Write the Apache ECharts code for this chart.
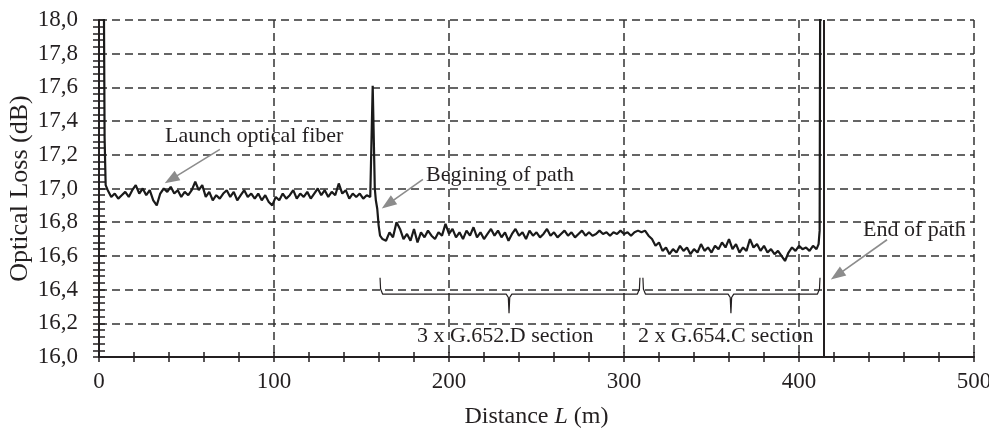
<!DOCTYPE html>
<html><head><meta charset="utf-8">
<script src="https://cdn.jsdelivr.net/npm/echarts@6/dist/echarts.min.js"></script>
<style>html,body{margin:0;padding:0;background:#fff}#c{width:989px;height:434px}</style>
</head><body><div id="c"></div>
<script>
// ---- data (distance in m, optical loss in dB) ----
const startDist = [2.6, 3.2, 3.8];
const startLoss = [18.5, 17.3, 17.02];

const launchDist = [5,7,9,11,13,15,17,19,21,23,25,27,29,31,33,35,37,39,41,43,45,47,49,51,53,55,57,59,61,63,65,67,69,71,73,75,77,79,81,83,85,87,89,91,93,95,97,99,101,103,105,107,109,111,113,115,117,119,121,123,125,127,129,131,133,135,137,139,141,143,145,147,149,151,153,155];
const launchLoss = [16.99,16.95,16.97,16.94,16.96,16.98,16.95,16.99,17.02,16.97,
  17.00,16.96,16.99,16.93,16.90,16.97,17.00,16.98,17.01,16.97,
  16.99,16.95,16.98,16.96,16.99,17.04,16.99,17.02,16.95,16.98,
  16.93,16.96,16.94,16.97,16.99,16.95,16.98,16.93,16.96,16.99,
  16.95,16.97,16.94,16.97,16.93,16.96,16.92,16.90,16.95,16.93,
  16.97,16.94,16.96,16.99,16.94,16.97,16.95,16.98,16.94,16.97,
  17.00,16.96,16.99,16.95,16.98,16.96,17.03,16.97,16.99,16.94,
  16.97,16.95,16.97,16.94,16.96,16.95];

const reflDist = [156.0,156.4,157.6,158.2,159.0,159.8,160.6];
const reflLoss = [16.96,17.61,17.0,16.93,16.88,16.78,16.72];

const g652Dist = [162,164,166,168,170,172,174,176,178,180,182,184,186,188,190,192,194,196,198,200,202,204,206,208,210,212,214,216,218,220,222,224,226,228,230,232,234,236,238,240,242,244,246,248,250,252,254,256,258,260,262,264,266,268,270,272,274,276,278,280,282,284,286,288,290,292,294,296,298,300,302,304,306,308,310];
const g652Loss = [16.70,16.69,16.74,16.71,16.80,16.76,16.70,16.73,16.69,16.76,
  16.68,16.74,16.71,16.75,16.72,16.70,16.74,16.72,16.79,16.73,
  16.76,16.71,16.74,16.70,16.75,16.72,16.77,16.71,16.74,16.70,
  16.73,16.76,16.72,16.75,16.71,16.74,16.69,16.73,16.76,16.72,
  16.74,16.70,16.75,16.72,16.74,16.71,16.73,16.76,16.72,16.74,
  16.71,16.73,16.75,16.72,16.74,16.71,16.73,16.75,16.72,16.74,
  16.72,16.73,16.75,16.73,16.74,16.72,16.74,16.73,16.75,16.73,
  16.74,16.72,16.74,16.75,16.74];

const g654Dist = [312,314,316,318,320,322,324,326,328,330,332,334,336,338,340,342,344,346,348,350,352,354,356,358,360,362,364,366,368,370,372,374,376,378,380,382,384,386,388,390,392,394,396,398,400,402,404,406,408,410,411.2,411.8,412.2];
const g654Loss = [16.75,16.72,16.70,16.66,16.68,16.63,16.65,16.61,16.64,16.62,
  16.66,16.63,16.65,16.61,16.64,16.62,16.67,16.63,16.65,16.62,
  16.66,16.64,16.68,16.65,16.70,16.64,16.67,16.62,16.65,16.63,
  16.70,16.65,16.67,16.63,16.66,16.62,16.64,16.61,16.63,16.60,
  16.57,16.62,16.65,16.63,16.66,16.64,16.65,16.63,16.66,16.64,
  16.67,16.75,18.6];

const endOfPath = 414;
// section braces: [start, centre, end] distance
const braces = [[160.6, 234.3, 309.1], [310.8, 361.1, 412.0]];
const braceLevels = {top: 16.47, bar: 16.373, tip: 16.26};

const annotations = [
  {text: 'Launch optical fiber', at: [37.7, 17.31]},
  {text: 'Begining of path', at: [186.9, 17.077]},
  {text: 'End of path', at: [436.6, 16.75]},
  {text: '3 x G.652.D section', at: [181.7, 16.125]},
  {text: '2 x G.654.C section', at: [308.0, 16.125]}
];
const arrows = [
  [[69.1, 17.232], [41.2, 17.054]],
  [[185.1, 17.054], [165.1, 16.907]],
  [[450.3, 16.696], [421.7, 16.485]]
];

// ---- build ----
function pairs(xs, ys) { return xs.map((x, i) => [x, ys[i]]); }
const trace = [].concat(
  pairs(startDist, startLoss), pairs(launchDist, launchLoss), pairs(reflDist, reflLoss),
  pairs(g652Dist, g652Loss), pairs(g654Dist, g654Loss));

function bracePath(b) {
  const [s, c, e] = b, L = braceLevels;
  return [[s, L.top], [s + 0.3, L.bar + 0.03], [s + 1.5, L.bar], [c - 1.6, L.bar], [c - 0.4, L.bar - 0.02], [c, L.tip],
          [c + 0.4, L.bar - 0.02], [c + 1.6, L.bar], [e - 1.5, L.bar], [e - 0.3, L.bar + 0.03], [e, L.top]];
}

const FONT = '"Liberation Serif", "Times New Roman", serif';
const INK = '#231f20';
const fmtY = v => v.toFixed(1).replace('.', ',');

const tickStyle = {color: INK, width: 1.5};
const option = {
  animation: false,
  backgroundColor: '#fff',
  grid: {left: 99, top: 20, right: 15, bottom: 77, containLabel: false, outerBoundsMode: 'none'},
  xAxis: [{
    type: 'value', min: 0, max: 500, interval: 100,
    axisLine: {onZero: false, lineStyle: {color: INK, width: 2}},
    axisTick: {length: 5, lineStyle: tickStyle},
    minorTick: {show: true, splitNumber: 5, length: 5, lineStyle: tickStyle},
    splitLine: {show: true, lineStyle: {type: [8, 5], color: '#333', width: 1.5}},
    axisLabel: {margin: 13, fontFamily: FONT, fontSize: 23, color: INK},
    name: '{n|Distance }{i|L}{n| (m)}', nameLocation: 'middle', nameGap: 48, nameMoveOverlap: false,
    nameTextStyle: {fontFamily: FONT, fontSize: 24, color: INK,
      rich: {n: {fontFamily: FONT, fontSize: 24, color: INK}, i: {fontFamily: FONT, fontSize: 24, color: INK, fontStyle: 'italic'}}}
  }, {
    type: 'value', min: 0, max: 500, interval: 100, position: 'bottom',
    axisLine: {show: false, onZero: false},
    axisTick: {inside: true, length: 5, lineStyle: tickStyle},
    minorTick: {show: true, splitNumber: 5, length: 5, lineStyle: tickStyle},
    splitLine: {show: false}, axisLabel: {show: false}
  }],
  yAxis: [{
    type: 'value', min: 16, max: 18, interval: 0.2,
    axisLine: {show: true, onZero: false, lineStyle: {color: INK, width: 2}},
    axisTick: {show: true, length: 6, lineStyle: tickStyle},
    minorTick: {show: true, splitNumber: 5, length: 6, lineStyle: tickStyle},
    splitLine: {show: true, lineStyle: {type: [8, 5], color: '#333', width: 1.5}},
    axisLabel: {margin: 21, fontFamily: FONT, fontSize: 23, color: INK, formatter: fmtY},
    name: 'Optical Loss (dB)', nameLocation: 'middle', nameGap: 66, nameRotate: 90, nameMoveOverlap: false,
    nameTextStyle: {fontFamily: FONT, fontSize: 26, color: INK}
  }, {
    type: 'value', min: 16, max: 18, interval: 0.2, position: 'left',
    axisLine: {show: false, onZero: false},
    axisTick: {show: true, inside: true, length: 6, lineStyle: tickStyle},
    minorTick: {show: true, splitNumber: 5, length: 6, lineStyle: tickStyle},
    splitLine: {show: false}, axisLabel: {show: false}
  }],
  series: [{
    type: 'line', name: 'OTDR trace', data: trace, showSymbol: false, symbol: 'none',
    clip: true, lineStyle: {color: '#1a1a1a', width: 2.2}, z: 5,
    markLine: {
      silent: true, symbol: 'none', label: {show: false}, animation: false,
      lineStyle: {color: INK, width: 2, type: 'solid'},
      data: [{xAxis: endOfPath}]
    }
  }].concat(braces.map((b, i) => ({
    type: 'line', data: bracePath(b), showSymbol: false, symbol: 'none', silent: true,
    lineStyle: {color: INK, width: 1.2}, z: 4,
    markLine: i === 0 ? {
      silent: true, animation: false, symbol: ['none', 'triangle'], symbolSize: [11, 15],
      label: {show: false},
      lineStyle: {color: '#8c8c8c', width: 1.6, type: 'solid'},
      itemStyle: {color: '#8c8c8c'},
      data: arrows.map(a => [{coord: a[0]}, {coord: a[1]}])
    } : undefined
  })))
};

const chart = echarts.init(document.getElementById('c'), null, {renderer: 'canvas'});
chart.setOption(option);
const graphic = annotations.map(a => {
  const p = chart.convertToPixel({seriesIndex: 0}, a.at);
  return {type: 'text', x: p[0], y: p[1], z: 10, silent: true,
    style: {text: a.text, fill: INK, font: '22px ' + FONT, textAlign: 'left', textVerticalAlign: 'middle'}};
});
chart.setOption({graphic: graphic});
</script>
</body></html>
